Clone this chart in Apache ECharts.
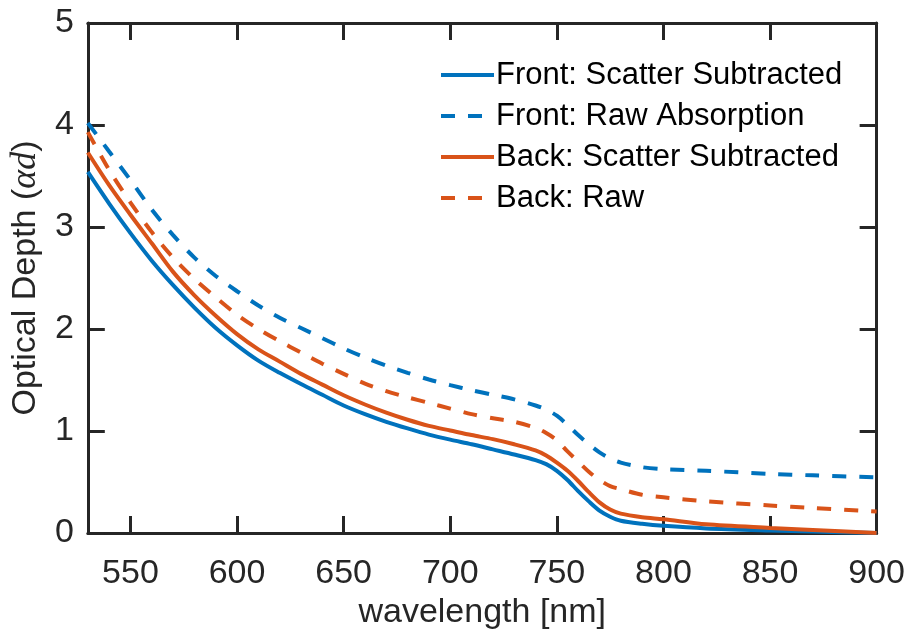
<!DOCTYPE html>
<html>
<head>
<meta charset="utf-8">
<script src="https://cdn.jsdelivr.net/npm/echarts@6/dist/echarts.min.js"></script>
<style>html,body{margin:0;padding:0;background:#fff}#c{width:908px;height:637px}</style>
</head>
<body>
<div id="c"></div>
<script>
const wavelength = [530,540,550,560,570,580,590,600,610,620,630,640,650,660,670,680,690,700,710,720,730,740,745,750,755,760,765,770,775,780,790,800,820,850,870,900];
const frontScatterSubtracted = [3.54,3.23,2.94,2.67,2.43,2.21,2.01,1.84,1.69,1.57,1.46,1.355,1.25,1.165,1.09,1.025,0.965,0.915,0.87,0.82,0.77,0.715,0.675,0.61,0.52,0.41,0.31,0.22,0.16,0.12,0.09,0.07,0.045,0.025,0.015,0.0];
const frontRawAbsorption = [4.02,3.74,3.46,3.17,2.92,2.70,2.52,2.37,2.23,2.11,2.01,1.91,1.81,1.72,1.64,1.57,1.505,1.45,1.40,1.355,1.31,1.25,1.21,1.15,1.06,0.96,0.87,0.79,0.73,0.69,0.645,0.625,0.61,0.58,0.565,0.545];
const backScatterSubtracted = [3.73,3.41,3.12,2.84,2.56,2.33,2.13,1.95,1.80,1.68,1.56,1.455,1.35,1.26,1.18,1.11,1.05,1.005,0.96,0.92,0.87,0.81,0.76,0.69,0.61,0.51,0.40,0.30,0.23,0.19,0.155,0.135,0.085,0.05,0.03,0.0];
const backRaw = [3.93,3.56,3.24,2.95,2.70,2.49,2.31,2.14,2.00,1.88,1.77,1.66,1.56,1.465,1.39,1.33,1.275,1.22,1.165,1.125,1.09,1.03,0.98,0.91,0.80,0.70,0.60,0.52,0.46,0.43,0.375,0.35,0.31,0.27,0.245,0.21];
const xTicks = [550,600,650,700,750,800,850,900];
const yTicks = [0,1,2,3,4,5];

const zip = a => wavelength.map((w,i)=>[w,a[i]]);
const AX = '#262626';
const FONT = 'Liberation Sans';
const blue = '#0072BD', orange = '#D95319';
const dash = [14,13];

const chart = echarts.init(document.getElementById('c'), null, {renderer:'canvas'});
const xBase = {
  type:'value', min:530, max:900,
  axisLine:{show:true, onZero:false, lineStyle:{color:AX, width:3}},
  axisTick:{show:true, inside:true, length:17, customValues:xTicks, lineStyle:{color:AX, width:3}},
  splitLine:{show:false}
};
const yBase = {
  type:'value', min:0, max:5, interval:1,
  axisLine:{show:true, onZero:false, lineStyle:{color:AX, width:3}},
  axisTick:{show:true, inside:true, length:17, lineStyle:{color:AX, width:3}},
  splitLine:{show:false}
};
const mk = (name, data, color, type) => ({
  name, type:'line', data:zip(data), symbol:'none',
  smooth:0.3,
  lineStyle:{color, width:4, type}, itemStyle:{color}, z:3
});
chart.setOption({
  animation:false,
  grid:{left:87, right:29, top:23, bottom:104, containLabel:false},
  legend:{
    orient:'vertical', left:434, top:53,
    itemWidth:53, itemHeight:14, itemGap:7,
    itemStyle:{opacity:0},
    lineStyle:{width:4},
    textStyle:{fontFamily:FONT, fontSize:31, color:'#000', lineHeight:34, padding:[0,0,0,-3]},
    data:['Front: Scatter Subtracted','Front: Raw Absorption','Back: Scatter Subtracted','Back: Raw']
  },
  xAxis:[
    Object.assign({}, xBase, {
      position:'bottom',
      name:'wavelength [nm]', nameLocation:'middle', nameGap:58,
      nameTextStyle:{fontFamily:FONT, fontSize:34, color:AX},
      axisLabel:{show:true, customValues:xTicks, margin:24, fontFamily:FONT, fontSize:34, color:AX}
    }),
    Object.assign({}, xBase, {position:'top', axisLabel:{show:false}})
  ],
  yAxis:[
    Object.assign({}, yBase, {
      position:'left',
      name:'{n|Optical Depth (}{m|αd}{n|)}', nameLocation:'middle', nameGap:42,
      nameTextStyle:{rich:{
        n:{fontFamily:FONT, fontSize:34, color:AX},
        m:{fontFamily:'Liberation Serif', fontStyle:'italic', fontSize:36, color:AX}
      }},
      axisLabel:{show:true, margin:14, fontFamily:FONT, fontSize:34, color:AX}
    }),
    Object.assign({}, yBase, {position:'right', axisLabel:{show:false}})
  ],
  series:[
    mk('Front: Scatter Subtracted', frontScatterSubtracted, blue, 'solid'),
    mk('Front: Raw Absorption', frontRawAbsorption, blue, dash),
    mk('Back: Scatter Subtracted', backScatterSubtracted, orange, 'solid'),
    mk('Back: Raw', backRaw, orange, dash)
  ]
});
</script>
</body>
</html>
